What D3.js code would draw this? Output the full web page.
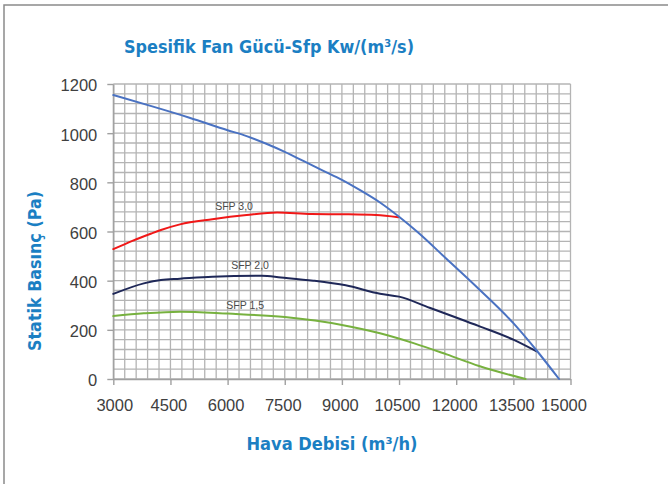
<!DOCTYPE html>
<html>
<head>
<meta charset="utf-8">
<script src="https://cdn.jsdelivr.net/npm/d3@7"></script>
<style>
html,body{margin:0;padding:0;background:#fff;}
svg{display:block;}
</style>
</head>
<body>
<svg id="chart" width="668" height="484"></svg>
<script>
// ---- data ----
const xTicks = [3000, 4500, 6000, 7500, 9000, 10500, 12000, 13500, 15000];
const yTicks = [0, 200, 400, 600, 800, 1000, 1200];

const fanFlow     = [3000, 4000, 5000, 6000, 6500, 7000, 7500, 8000, 8500, 9000, 9500, 10000, 10500, 11000, 11750, 12600, 13500, 14100, 14700];
const fanPressure = [1155, 1110, 1063, 1012, 988, 958, 924, 886, 848, 810, 766, 718, 660, 596, 488, 365, 227, 118, 0];

const sfp30Flow     = [3000, 3500, 4000, 4250, 4750, 5600, 6500, 7300, 8200, 9100, 9900, 10480];
const sfp30Pressure = [528, 562, 592, 606, 629, 650, 667, 677, 671, 670, 667, 658];

const sfp20Flow     = [3000, 3800, 4250, 4750, 5600, 6900, 7400, 8250, 9100, 10000, 10500, 11300, 12600, 13500, 14100];
const sfp20Pressure = [346, 389, 403, 408, 416, 420, 413, 400, 381, 347, 335, 290, 215, 160, 113];

const sfp15Flow     = [3000, 3800, 4750, 6000, 7500, 9000, 10000, 10900, 11750, 12600, 13820];
const sfp15Pressure = [256, 267, 274, 266, 252, 220, 186, 145, 100, 53, 0];

const seriesLabels = ["SFP 3,0", "SFP 2,0", "SFP 1,5"];
const titleText = "Spesifik Fan Gücü-Sfp Kw/(m³/s)";
const xTitle = "Hava Debisi  (m³/h)";
const yTitle = "Statik Basınç (Pa)";

// ---- drawing ----
const svg = d3.select("#chart");
const x = d3.scaleLinear().domain([3000, 15000]).range([113.3, 570.5]);
const y = d3.scaleLinear().domain([0, 1200]).range([379, 84]);

// outer frame (only left & top visible)
svg.append("rect").attr("x", 4).attr("y", 5).attr("width", 720).attr("height", 520)
  .attr("fill", "none").attr("stroke", "#8a8a8a").attr("stroke-width", 1.5);

// grid
const gridColor = "#b4b4b4";
const g = svg.append("g");
g.selectAll("line.v").data(d3.range(3000, 15001, 300)).join("line")
  .attr("x1", d => x(d)).attr("x2", d => x(d)).attr("y1", y(0)).attr("y2", y(1200))
  .attr("stroke", gridColor).attr("stroke-width", 1.3);
g.selectAll("line.h").data(d3.range(0, 1201, 40)).join("line")
  .attr("x1", x(3000)).attr("x2", x(15000)).attr("y1", d => y(d)).attr("y2", d => y(d))
  .attr("stroke", gridColor).attr("stroke-width", 1.3);

// axes
const tickFont = "'Liberation Sans', Arial, sans-serif";
const xAxis = svg.append("g").attr("transform", `translate(0,${y(0)})`)
  .call(d3.axisBottom(x).tickValues(xTicks).tickSize(6).tickSizeOuter(0).tickFormat(d3.format("d")));
xAxis.select(".domain").attr("stroke", "#a0a0a0").attr("stroke-width", 1.4);
xAxis.selectAll(".tick line").attr("stroke", "#a0a0a0").attr("stroke-width", 1.4);
xAxis.selectAll(".tick text").attr("y", 20).attr("dy", "0.71em")
  .attr("x", d => d === 15000 ? -7 : (d === 3000 ? 1 : -2))
  .attr("fill", "#404040").style("font-family", tickFont).style("font-size", "16.5px");

const yAxis = svg.append("g").attr("transform", `translate(${x(3000)},0)`)
  .call(d3.axisLeft(y).tickValues(yTicks).tickSize(6).tickSizeOuter(0).tickFormat(d3.format("d")));
yAxis.select(".domain").attr("stroke", "#a0a0a0").attr("stroke-width", 1.4);
yAxis.selectAll(".tick line").attr("stroke", "#a0a0a0").attr("stroke-width", 1.4);
yAxis.selectAll(".tick text").attr("x", -16).attr("dy", "0.42em")
  .attr("fill", "#404040").style("font-family", tickFont).style("font-size", "16.5px");

// curves
const line = d3.line().x(d => x(d[0])).y(d => y(d[1])).curve(d3.curveMonotoneX);
function drawSeries(fx, fy, color) {
  svg.append("path").datum(fx.map((v, i) => [v, fy[i]]))
    .attr("d", line).attr("fill", "none").attr("stroke", color)
    .attr("stroke-width", 2).attr("stroke-linejoin", "round").attr("stroke-linecap", "round");
}
drawSeries(sfp15Flow, sfp15Pressure, "#77b13f");
drawSeries(sfp20Flow, sfp20Pressure, "#1f2858");
drawSeries(sfp30Flow, sfp30Pressure, "#f01818");
drawSeries(fanFlow, fanPressure, "#4a72c2");

// series labels
const labelPos = [[6170, 704], [6590, 464], [6460, 301]];
seriesLabels.forEach((t, i) => {
  svg.append("text").attr("x", x(labelPos[i][0])).attr("y", y(labelPos[i][1]))
    .attr("text-anchor", "middle").attr("dy", "0.35em")
    .attr("fill", "#4a4a4a").style("font-family", tickFont).style("font-size", "10.5px")
    .text(t);
});

// titles
const blue = "#1b7fc3";
svg.append("text").attr("x", 269).attr("y", 53).attr("text-anchor", "middle")
  .attr("fill", blue).style("font-family", "'DejaVu Sans', sans-serif").style("font-size", "18.5px")
  .style("font-weight", "bold").attr("textLength", 290).attr("lengthAdjust", "spacingAndGlyphs")
  .text(titleText);

svg.append("text").attr("x", 332).attr("y", 450).attr("text-anchor", "middle")
  .attr("fill", blue).style("font-family", "'DejaVu Sans', sans-serif").style("font-size", "17.5px")
  .style("font-weight", "bold").attr("textLength", 171).attr("lengthAdjust", "spacingAndGlyphs")
  .text(xTitle);

svg.append("text").attr("transform", "translate(41,271) rotate(-90)").attr("text-anchor", "middle")
  .attr("fill", blue).style("font-family", "'DejaVu Sans', sans-serif").style("font-size", "17.5px")
  .style("font-weight", "bold").attr("textLength", 160).attr("lengthAdjust", "spacingAndGlyphs")
  .text(yTitle);
</script>
</body>
</html>
